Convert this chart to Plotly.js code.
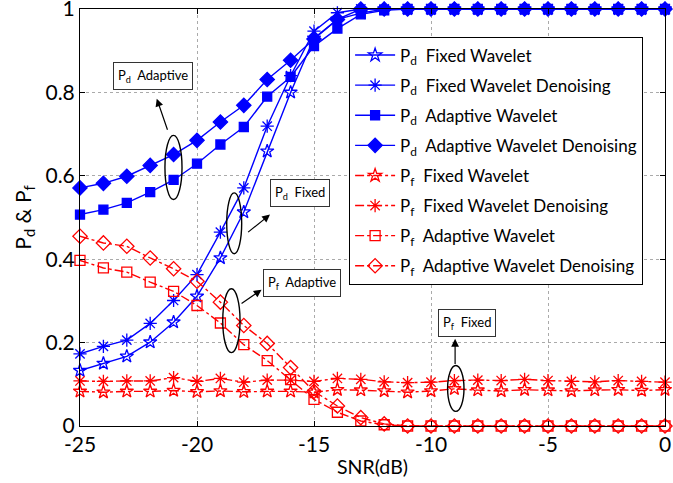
<!DOCTYPE html>
<html>
<head>
<meta charset="utf-8">
<script src="https://cdn.plot.ly/plotly-3.0.1.min.js"></script>
<style>html,body{margin:0;padding:0;background:#fff;}#chart{width:673px;height:483px;}</style>
</head>
<body>
<div id="chart"></div>
<script>
// ---- data ----
const snr = [-25,-24,-23,-22,-21,-20,-19,-18,-17,-16,-15,-14,-13,-12,-11,-10,-9,-8,-7,-6,-5,-4,-3,-2,-1,0];

const pdFixed      = [0.133,0.150,0.167,0.201,0.249,0.311,0.403,0.513,0.659,0.800,0.930,0.975,0.990,1,1,1,1,1,1,1,1,1,1,1,1,1];
const pdFixedDen   = [0.173,0.191,0.206,0.246,0.301,0.363,0.465,0.571,0.719,0.840,0.947,0.991,1,1,1,1,1,1,1,1,1,1,1,1,1,1];
const pdAdapt      = [0.507,0.519,0.535,0.561,0.590,0.629,0.675,0.717,0.790,0.837,0.911,0.953,0.987,0.997,1,1,1,1,1,1,1,1,1,1,1,1];
const pdAdaptDen   = [0.571,0.582,0.599,0.625,0.651,0.685,0.729,0.769,0.831,0.877,0.928,0.975,1,1,1,1,1,1,1,1,1,1,1,1,1,1];

const pfFixed      = [0.083,0.081,0.083,0.083,0.085,0.082,0.084,0.082,0.083,0.083,0.081,0.087,0.086,0.084,0.081,0.084,0.089,0.086,0.084,0.087,0.086,0.084,0.086,0.087,0.085,0.087];
const pfFixedDen   = [0.108,0.107,0.108,0.108,0.116,0.107,0.114,0.105,0.110,0.110,0.107,0.114,0.112,0.106,0.104,0.105,0.109,0.110,0.109,0.112,0.109,0.107,0.106,0.109,0.107,0.105];
const pfAdapt      = [0.397,0.379,0.369,0.345,0.323,0.289,0.247,0.195,0.157,0.111,0.064,0.033,0.012,0.003,0,0,0,0,0,0,0,0,0,0,0,0];
const pfAdaptDen   = [0.455,0.439,0.431,0.403,0.377,0.347,0.297,0.241,0.198,0.140,0.083,0.048,0.020,0.005,0,0,0,0,0,0,0,0,0,0,0,0];

const seriesNames = [
  'P<sub>d</sub>&nbsp; Fixed Wavelet',
  'P<sub>d</sub>&nbsp; Fixed Wavelet Denoising',
  'P<sub>d</sub>&nbsp; Adaptive Wavelet',
  'P<sub>d</sub>&nbsp; Adaptive Wavelet Denoising',
  'P<sub>f</sub>&nbsp; Fixed Wavelet',
  'P<sub>f</sub>&nbsp; Fixed Wavelet Denoising',
  'P<sub>f</sub>&nbsp; Adaptive Wavelet',
  'P<sub>f</sub>&nbsp; Adaptive Wavelet Denoising'
];

const xTickVals = [-25,-20,-15,-10,-5,0];
const xTickText = ['-25','-20','-15','-10','-5','0'];
const yTickVals = [0,0.2,0.4,0.6,0.8,1];
const yTickText = ['0','0.2','0.4','0.6','0.8','1'];

// ---- styles ----
const BLUE = '#0000ff', RED = '#ff0000';
const FONT = 'Lato, "Open Sans", sans-serif';

function tr(y, name, color, symbol, size, dash, grp) {
  return {
    x: snr, y: y, name: name, type: 'scatter', mode: 'lines+markers', legendgroup: grp,
    line: {color: color, width: 1.4, dash: dash},
    marker: {symbol: symbol, size: size, color: color, line: {color: color, width: 1.3}},
    cliponaxis: false
  };
}

const data = [
  tr(pdFixed,    seriesNames[0], BLUE, 'star-open',     10, 'solid',   'g1'),
  tr(pdFixedDen, seriesNames[1], BLUE, 'asterisk-open', 11, 'solid',   'g2'),
  tr(pdAdapt,    seriesNames[2], BLUE, 'square',         9, 'solid',   'g3'),
  tr(pdAdaptDen, seriesNames[3], BLUE, 'diamond',       11, 'solid',   'g4'),
  tr(pfFixed,    seriesNames[4], RED,  'star-open',     10, 'dashdot', 'g5'),
  tr(pfFixedDen, seriesNames[5], RED,  'asterisk-open', 11, 'dashdot', 'g6'),
  tr(pfAdapt,    seriesNames[6], RED,  'square-open',   10, 'dashdot', 'g7'),
  tr(pfAdaptDen, seriesNames[7], RED,  'diamond-open',  11, 'dashdot', 'g8')
];

function ell(x0, x1, y0, y1) {
  return {type: 'circle', xref: 'x', yref: 'y', x0: x0, x1: x1, y0: y0, y1: y1,
          line: {color: '#000', width: 1.4}, fillcolor: 'rgba(0,0,0,0)'};
}
function arrow(xt, yt, xh, yh) {
  return {x: xh, y: yh, ax: xt, ay: yt, xref: 'x', yref: 'y', axref: 'x', ayref: 'y',
          text: '', showarrow: true, arrowhead: 2, arrowsize: 1.3, arrowwidth: 1.2, arrowcolor: '#000'};
}
function box(x, y, text) {
  return {x: x, y: y, xref: 'x', yref: 'y', text: text, showarrow: false,
          font: {family: FONT, size: 13, color: '#000'}, bgcolor: '#fff',
          bordercolor: '#333', borderwidth: 1, borderpad: 4};
}

const layout = {
  width: 673, height: 483,
  margin: {l: 80, r: 8, t: 9, b: 57},
  paper_bgcolor: '#fff', plot_bgcolor: '#fff',
  font: {family: FONT, color: '#000'},
  showlegend: true,
  legend: {
    x: 0.46, y: 0.934, xanchor: 'left', yanchor: 'top',
    bgcolor: '#fff', bordercolor: '#000', borderwidth: 1,
    font: {family: FONT, size: 17, color: '#000'},
    itemwidth: 40, tracegroupgap: 5
  },
  xaxis: {
    range: [-25, 0], tickvals: xTickVals, ticktext: xTickText,
    ticks: 'inside', ticklen: 5, tickcolor: '#000', showline: true, linecolor: '#000', linewidth: 1,
    mirror: 'ticks', showgrid: true, gridcolor: '#aaa', griddash: 'dot', gridwidth: 1, zeroline: false,
    tickfont: {family: FONT, size: 21, color: '#000'}, ticklabeloverflow: 'allow',
    title: {text: 'SNR(dB)', font: {family: FONT, size: 19.5, color: '#000'}, standoff: 5}
  },
  yaxis: {
    range: [0, 1], tickvals: yTickVals, ticktext: yTickText,
    ticks: 'inside', ticklen: 5, tickcolor: '#000', showline: true, linecolor: '#000', linewidth: 1,
    mirror: 'ticks', showgrid: true, gridcolor: '#aaa', griddash: 'dot', gridwidth: 1, zeroline: false,
    tickfont: {family: FONT, size: 21, color: '#000'}, ticklabeloverflow: 'allow',
    title: {text: 'P<sub>d</sub>&nbsp;&amp; P<sub>f</sub>', font: {family: FONT, size: 21, color: '#000'}, standoff: 8}
  },
  shapes: [
    ell(-21.37, -20.64, 0.543, 0.697),
    ell(-18.73, -18.09, 0.413, 0.559),
    ell(-18.90, -18.16, 0.176, 0.329),
    ell(-9.29, -8.59, 0.035, 0.145)
  ],
  annotations: [
    arrow(-21.24, 0.707, -21.72, 0.785),
    arrow(-17.88, 0.462, -16.88, 0.507),
    arrow(-18.16, 0.291, -17.24, 0.327),
    arrow(-8.97, 0.145, -8.97, 0.209),
    box(-21.88, 0.839, 'P<sub>d</sub>&nbsp; Adaptive'),
    box(-15.60, 0.558, 'P<sub>d</sub>&nbsp; Fixed'),
    box(-15.53, 0.343, 'P<sub>f</sub>&nbsp; Adaptive'),
    box(-8.46, 0.246, 'P<sub>f</sub>&nbsp; Fixed')
  ]
};

Plotly.newPlot('chart', data, layout, {displayModeBar: false, staticPlot: true});
</script>
</body>
</html>
